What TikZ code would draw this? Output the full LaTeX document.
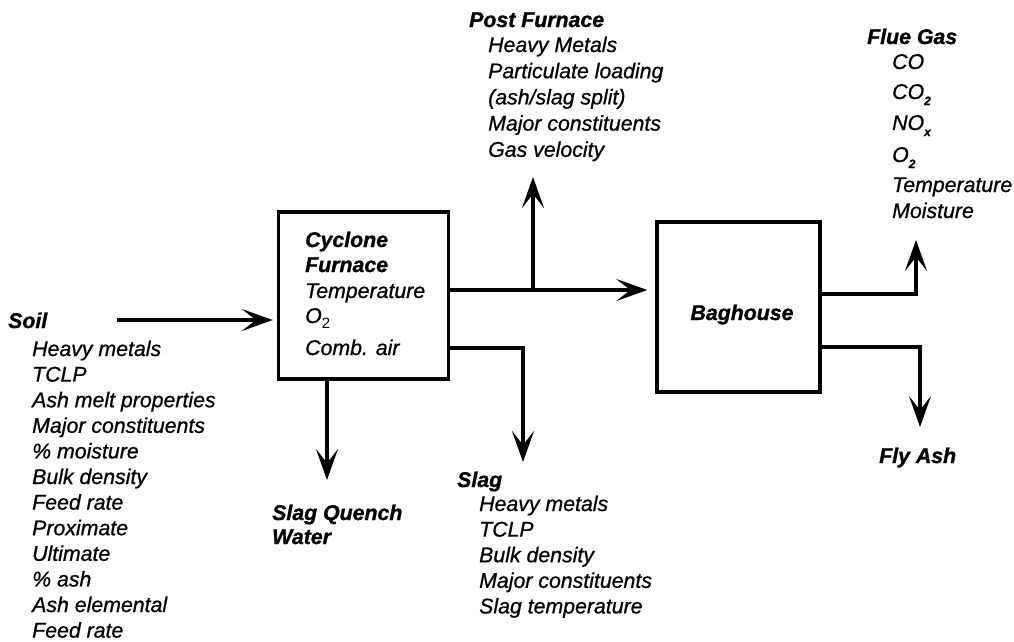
\documentclass[tikz,border=0pt]{standalone}
\usepackage{fontspec}
\setmainfont{Liberation Sans}[ItalicFeatures={FakeBold=0.8},BoldItalicFeatures={FakeBold=1.2}]
\usetikzlibrary{arrows.meta}
\newcommand\fgsub[1]{\raisebox{-6pt}{\fontsize{12}{12}\selectfont\bfseries #1}}
\newcommand\cysub[1]{\raisebox{-5pt}{\fontsize{15}{15}\selectfont\upshape #1}}
\begin{document}
\begin{tikzpicture}[x=1pt,y=-1pt,
  txt/.style={font=\fontsize{21.3}{25.6}\selectfont\itshape, anchor=base west, inner sep=0pt},
  hd/.style={txt, font=\fontsize{21.3}{25.6}\selectfont\bfseries\itshape},
  boxnode/.style={draw, line width=3.4pt, inner sep=0pt},
  flow/.style={line width=3.6pt, line join=miter, -{Stealth[length=31pt,width=22pt,inset=14pt]}},
]
\useasboundingbox (0,0) rectangle (1014,641);

% boxes
\node[boxnode, minimum width=170pt, minimum height=167pt] (cyc) at (363.5,295.5) {};
\node[boxnode, minimum width=163pt, minimum height=170pt] (bag) at (738.5,307) {};

% cyclone text
\node[hd]  (cyc1) at (305,247) {Cyclone};
\node[hd]  (cyc2) at (305,272) {Furnace};
\node[txt] (cyc3) at (305,298) {Temperature};
\node[txt] (cyc4) at (305,323) {O\cysub{2}};
\node[txt] (cyc5) at (305,355) {Comb. air};

\node[hd, anchor=base] (baglbl) at (742,320) {Baghouse};

% coordinates for connectors
\coordinate (soilstart) at (117,320);
\coordinate (mainy) at (0,290);
\coordinate (junc) at (533,290);
\coordinate (posttip) at (533,177);
\coordinate (flueout) at (0,294);
\coordinate (fluetip) at (916,240);
\coordinate (ashout) at (0,347);
\coordinate (ashtip) at (920,427);
\coordinate (slagout) at (0,348);
\coordinate (slagtip) at (523,462);
\coordinate (quenchtip) at (327,480);

% connectors
\draw[flow, shorten >=4pt] (soilstart) -- (cyc.west |- soilstart);
\draw[flow, shorten >=8pt] (cyc.east |- mainy) -- (bag.west |- mainy);
\draw[flow] (junc) -- (posttip);
\draw[flow] (bag.east |- flueout) -| (fluetip);
\draw[flow] (bag.east |- ashout) -| (ashtip);
\draw[flow] (cyc.east |- slagout) -| (slagtip);
\draw[flow] (cyc.south -| quenchtip) -- (quenchtip);

% Soil
\node[hd] (soil) at (8,328) {Soil};
\foreach \t [count=\i from 0] in {Heavy metals, TCLP, Ash melt properties, Major constituents, \% moisture, Bulk density, Feed rate, Proximate, Ultimate, \% ash, Ash elemental, Feed rate}
  \node[txt] (soil-\i) at (32,{356+25.6*\i}) {\t};

% Post Furnace
\node[hd] (post) at (469,27) {Post Furnace};
\foreach \t [count=\i from 0] in {Heavy Metals, Particulate loading, (ash/slag split), Major constituents, Gas velocity}
  \node[txt] (post-\i) at (488,{52+26.2*\i}) {\t};

% Flue Gas
\node[hd] (flue) at (867,44) {Flue Gas};
\foreach \y/\t [count=\i] in {69/CO, 99/CO\fgsub{2}, 130/NO\fgsub{x}, 162/O\fgsub{2}, 192/Temperature, 218/Moisture}
  \node[txt] (flue-\i) at (892,\y) {\t};

% Fly Ash
\node[hd] (flyash) at (879,463) {Fly Ash};

% Slag
\node[hd] (slag) at (457,487) {Slag};
\foreach \t [count=\i from 0] in {Heavy metals, TCLP, Bulk density, Major constituents, Slag temperature}
  \node[txt] (slag-\i) at (479,{511+25.6*\i}) {\t};

% Slag Quench Water
\node[hd] (quench1) at (272,520) {Slag Quench};
\node[hd] (quench2) at (272,544) {Water};
\end{tikzpicture}
\end{document}
